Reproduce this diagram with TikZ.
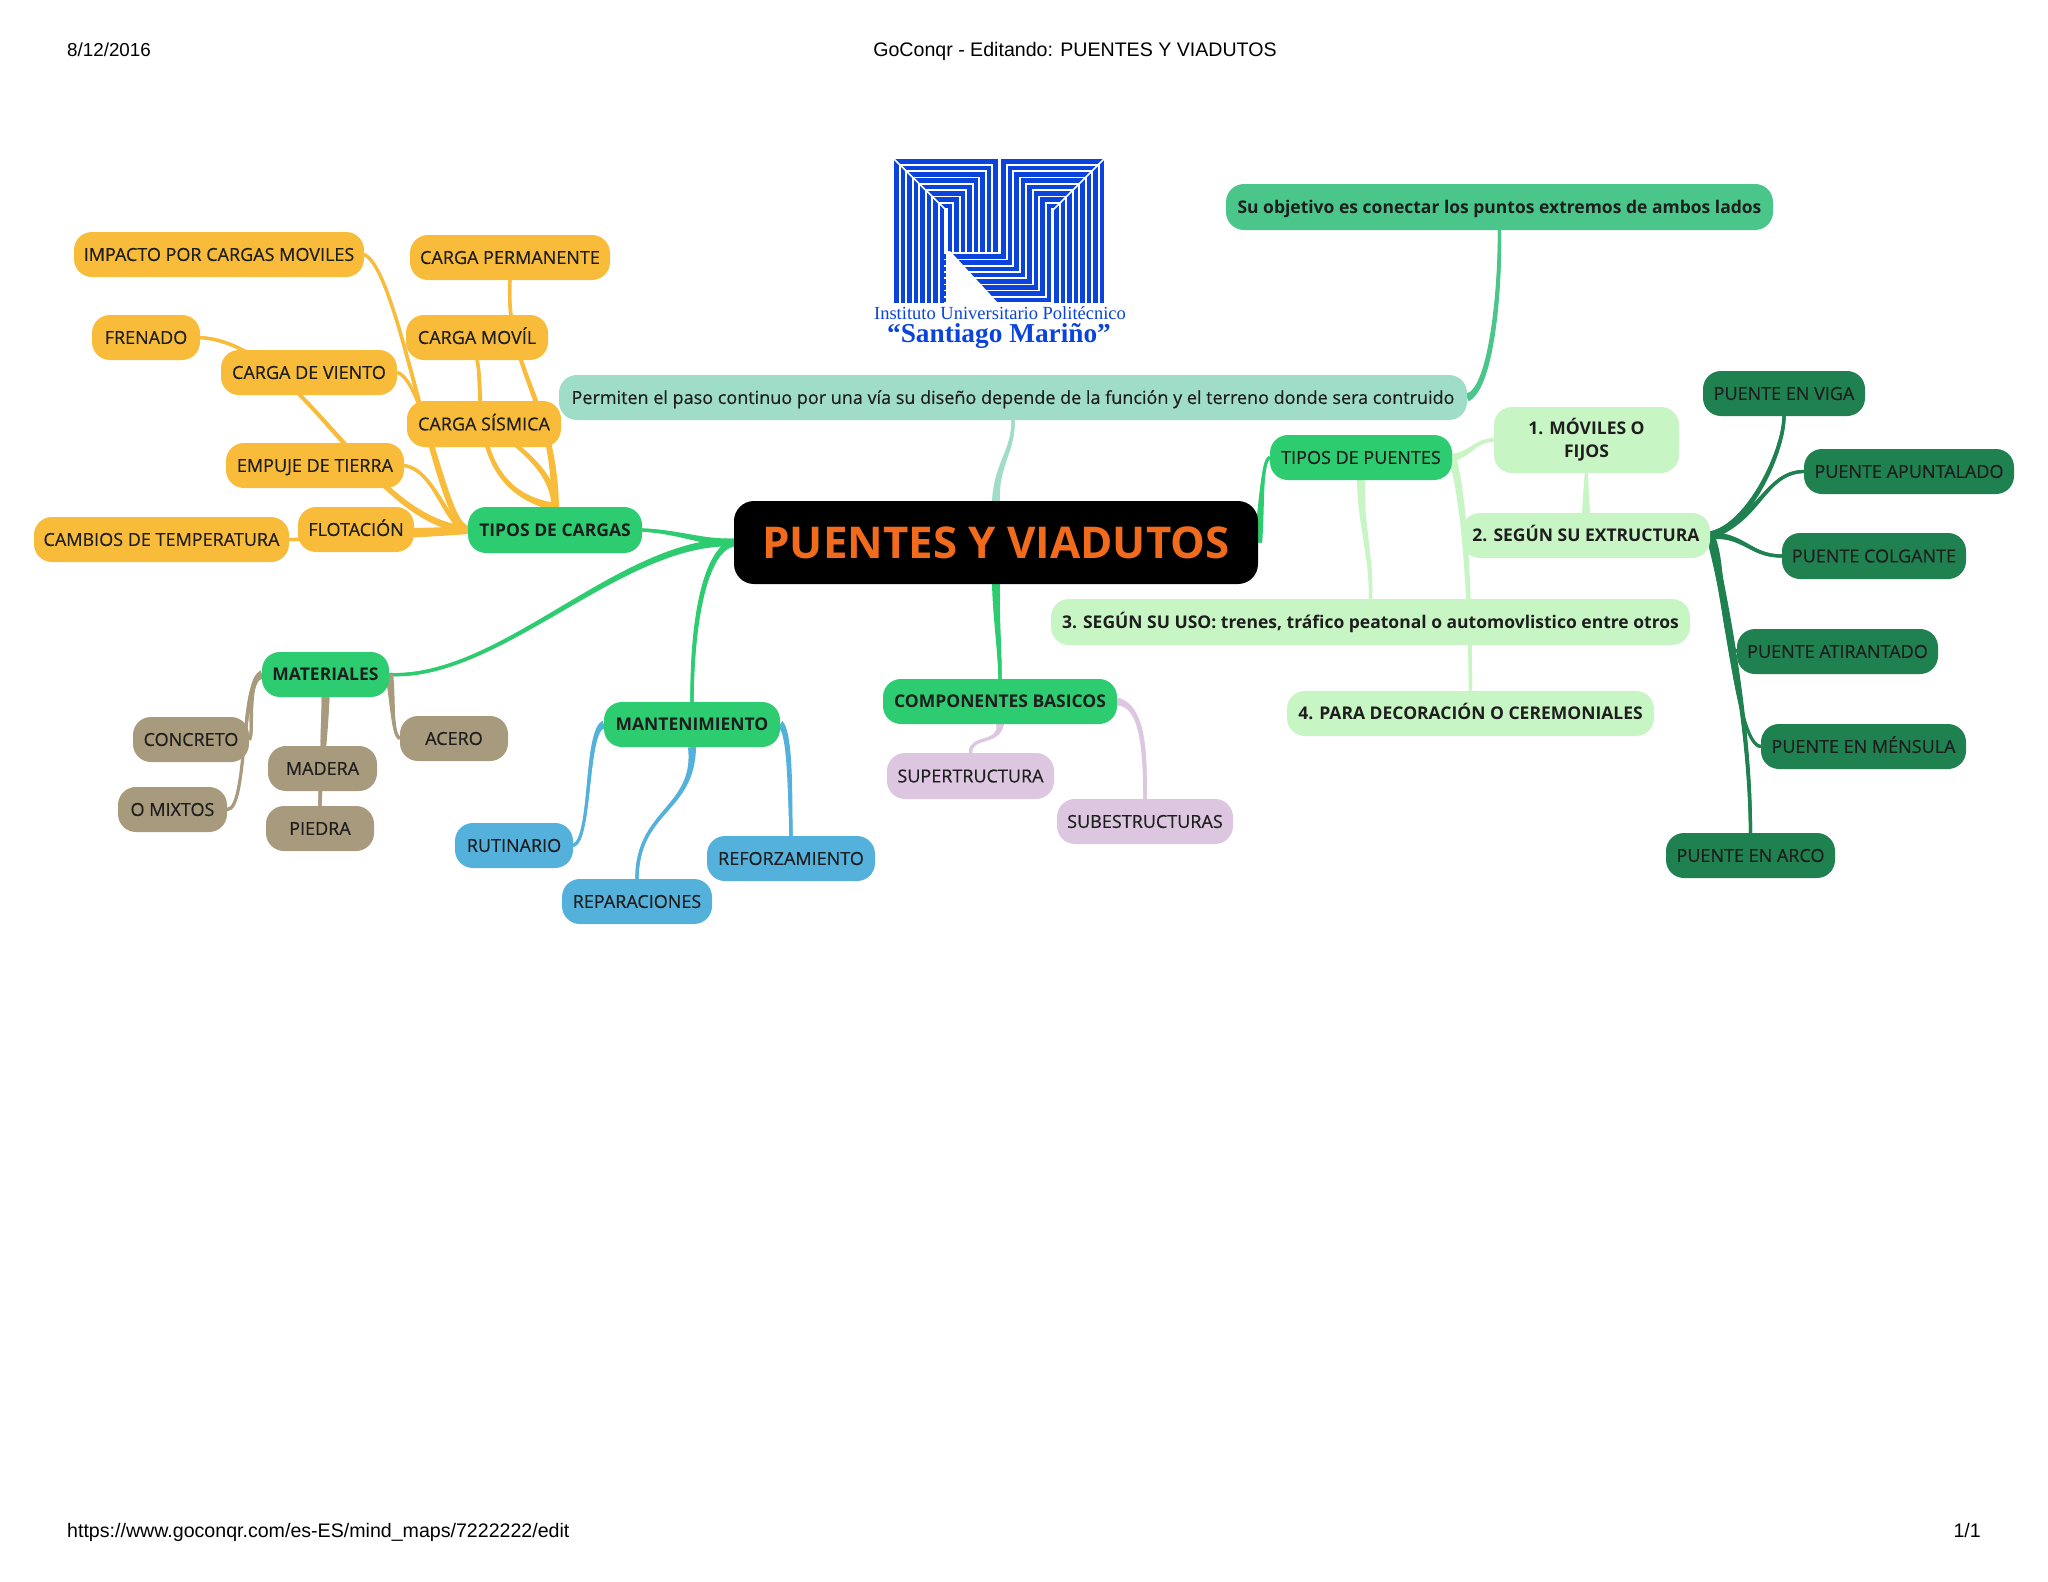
\documentclass[tikz,border=0pt]{standalone}
\usepackage{fontspec}
\setmainfont{Open Sans}
\newfontfamily\hdf{Liberation Sans}
\newfontfamily\lgf{Liberation Serif}
\newfontfamily\medf[FakeBold=0.4]{Open Sans}
\usetikzlibrary{calc}
\pgfdeclarelayer{bg}\pgfsetlayers{bg,main}
\definecolor{cOr}{HTML}{F8BC3A}
\definecolor{cGr}{HTML}{2ECC71}
\definecolor{cTe}{HTML}{9FDDC9}
\definecolor{cOb}{HTML}{4AC68B}
\definecolor{cLg}{HTML}{C8F5C4}
\definecolor{cDg}{HTML}{1F8050}
\definecolor{cTa}{HTML}{A89A7C}
\definecolor{cBl}{HTML}{54B1DB}
\definecolor{cLi}{HTML}{DCC6E0}
\definecolor{cTi}{HTML}{F26B1D}
\definecolor{cLo}{HTML}{0B44DC}
\definecolor{cTx}{HTML}{1E1E1E}
\tikzset{
  base/.style={rounded corners=18pt,inner sep=0pt,text=cTx,font=\fontsize{18}{23}\selectfont\medf,
     text height=12.9pt,text depth=0pt,anchor=center},
  bf/.style={font=\fontsize{17.5}{23}\selectfont\bfseries},
  hdr/.style={font=\fontsize{19.6}{24}\selectfont\hdf,text=black,inner sep=0pt,text height=14pt,text depth=4pt},
}
% box given by x0,x1,y0,y1
\newcommand\nd[7]{\node[base,#2,minimum width={(#4)*1pt-(#3)*1pt},minimum height={(#6)*1pt-(#5)*1pt}] (#1) at ({(#3+#4)/2},{(#5+#6)/2}) {#7};}
% tapered connector from parent to child
\newcommand\tp[5]{%
  \draw[#1,line width=3.2pt] (#2) .. controls (#3) and (#4) .. (#5);
  \fill[#1] ($(#2)!4pt!90:(#3)$) .. controls ($(#3)!3pt!90:(#4)$) and ($(#4)!2.2pt!90:(#5)$) .. ($(#5)!1.6pt!-90:(#4)$)
    -- ($(#5)!1.6pt!90:(#4)$) .. controls ($(#4)!2.2pt!-90:(#5)$) and ($(#3)!3pt!-90:(#4)$) .. ($(#2)!4pt!-90:(#3)$) -- cycle;}
\begin{document}
\begin{tikzpicture}[x=1pt,y=-1pt]
\useasboundingbox (0,0) rectangle (2048,1582);
% header and footer
\node[hdr,anchor=west,font=\fontsize{18.8}{24}\selectfont\hdf] (hda) at (67,51) {8/12/2016};
\node[hdr] (hdb) at (1075,51) {GoConqr - Editando: PUENTES Y VIADUTOS};
\node[hdr,anchor=west] (fta) at (67,1532) {https://www.goconqr.com/es-ES/mind\_maps/7222222/edit};
\node[hdr,anchor=east] (ftb) at (1981,1532) {1/1};
% logo
\begin{scope}[line width=4.6pt,cLo,line join=miter]
\foreach \i in {0,...,7}{
  \pgfmathsetmacro\xl{840+(170+19.5*\i)/3}
  \pgfmathsetmacro\xr{840+(466-19.5*\i)/3}
  \pgfmathsetmacro\yt{140+(65+19*\i)/3}
  \pgfmathsetmacro\xR{840+(786-19.5*\i)/3}
  \pgfmathsetmacro\xL{840+(491+19.5*\i)/3}
  \pgfmathsetmacro\yb{140+(349+18.7*\i)/3}
  \draw (\xl,302.5) -- (\xl,\yt) -- (\xr,\yt) -- (\xr,252);
  \draw (\xR,302.5) -- (\xR,\yt) -- (\xL,\yt) -- (\xL,\yb) -- (940,\yb);
}
\end{scope}
\fill[white] (950,251) -- (999,304) -- (946,304) -- (946,251) -- cycle;
\draw[white,line width=1.6pt] (894,159) -- (946,210);
\draw[white,line width=1.6pt] (1104,159) -- (1053,210);
\draw[white,line width=1.6pt] (999,159) -- (999,252);
\node[inner sep=0pt,text=cLo,font=\fontsize{18.5}{20}\selectfont\lgf] (lgA) at (1000,313) {Instituto Universitario Politécnico};
\node[inner sep=0pt,text=cLo,font=\fontsize{27.3}{30}\selectfont\lgf\bfseries] (lgB) at (999,336) {“Santiago Mariño”};
% nodes
\nd{main}{fill=black,rounded corners=20pt,text=cTi,font=\fontsize{43.8}{50}\selectfont\bfseries,text height=31.3pt}{734}{1258}{501}{584}{PUENTES Y VIADUTOS}
\nd{obj}{fill=cOb,bf}{1226}{1773}{184}{230}{Su objetivo es conectar los puntos extremos de ambos lados}
\nd{perm}{fill=cTe}{559}{1467}{375}{420}{Permiten el paso continuo por una vía su diseño depende de la función y el terreno donde sera contruido}
\nd{imp}{fill=cOr}{74}{364}{232}{277}{IMPACTO POR CARGAS MOVILES}
\nd{cpe}{fill=cOr}{410}{610}{235}{280}{CARGA PERMANENTE}
\nd{cmo}{fill=cOr}{406}{548}{315}{360}{CARGA MOVÍL}
\nd{fre}{fill=cOr}{92}{200}{315}{360}{FRENADO}
\nd{vie}{fill=cOr}{221}{397}{350}{395}{CARGA DE VIENTO}
\nd{sis}{fill=cOr}{407}{561}{401}{447}{CARGA SÍSMICA}
\nd{emp}{fill=cOr}{226}{404}{443}{488}{EMPUJE DE TIERRA}
\nd{flo}{fill=cOr}{298}{414}{507}{552}{FLOTACIÓN}
\nd{cam}{fill=cOr}{34}{289}{517}{562}{CAMBIOS DE TEMPERATURA}
\nd{tc}{fill=cGr,bf}{468}{642}{507}{553}{TIPOS DE CARGAS}
\nd{mat}{fill=cGr,bf}{262}{389}{652}{697}{MATERIALES}
\nd{con}{fill=cTa}{133}{249}{717}{762}{CONCRETO}
\nd{mad}{fill=cTa}{268}{377}{746}{791}{MADERA}
\nd{ace}{fill=cTa}{400}{508}{716}{761}{ACERO}
\nd{mix}{fill=cTa}{118}{227}{787}{832}{O MIXTOS}
\nd{pie}{fill=cTa}{266}{374}{806}{851}{PIEDRA}
\nd{man}{fill=cGr,bf}{604}{780}{702}{747}{MANTENIMIENTO}
\nd{rut}{fill=cBl}{455}{573}{823}{868}{RUTINARIO}
\nd{rep}{fill=cBl}{562}{712}{879}{924}{REPARACIONES}
\nd{ref}{fill=cBl}{707}{875}{836}{881}{REFORZAMIENTO}
\nd{com}{fill=cGr,bf}{883}{1117}{679}{724}{COMPONENTES BASICOS}
\nd{sup}{fill=cLi}{887}{1054}{753}{799}{SUPERTRUCTURA}
\nd{sub}{fill=cLi}{1057}{1233}{799}{844}{SUBESTRUCTURAS}
\nd{tpu}{fill=cGr}{1270}{1452}{435}{480}{TIPOS DE PUENTES}
\nd{mov}{fill=cLg,bf,align=center,text height=,text depth=}{1494}{1679}{407}{473}{1. MÓVILES O\\FIJOS}
\nd{seg}{fill=cLg,bf}{1462}{1710}{513}{558}{2. SEGÚN SU EXTRUCTURA}
\nd{uso}{fill=cLg,bf}{1051}{1690}{599}{645}{3. SEGÚN SU USO: trenes, tráfico peatonal o automovlistico entre otros}
\nd{par}{fill=cLg,bf}{1287}{1654}{691}{736}{4. PARA DECORACIÓN O CEREMONIALES}
\nd{vig}{fill=cDg}{1703}{1865}{371}{416}{PUENTE EN VIGA}
\nd{apu}{fill=cDg}{1804}{2014}{449}{494}{PUENTE APUNTALADO}
\nd{col}{fill=cDg}{1782}{1966}{533}{579}{PUENTE COLGANTE}
\nd{ati}{fill=cDg}{1737}{1938}{629}{674}{PUENTE ATIRANTADO}
\nd{men}{fill=cDg}{1761}{1966}{724}{769}{PUENTE EN MÉNSULA}
\nd{arc}{fill=cDg}{1666}{1835}{833}{878}{PUENTE EN ARCO}
% connectors
\begin{pgfonlayer}{bg}
\fill[white] (0,0) rectangle (2048,1582);
\tp{cGr}{main.west}{700,542}{680,532}{tc.east}
\tp{cGr}{main.west}{620,540}{500,680}{mat.east}
\tp{cGr}{main.west}{705,550}{692,620}{man.north}
\tp{cGr}{main.south}{996,620}{1000,650}{com.north}
\tp{cTe}{main.north}{996,465}{1014,450}{perm.south}
\tp{cGr}{main.east}{1262,500}{1262,460}{tpu.west}
\tp{cOb}{perm.east}{1490,390}{1500,300}{obj.south}
% tipos de cargas
\tp{cOr}{tc.north}{555,400}{505,370}{cpe.south}
\tp{cOr}{tc.north}{465,490}{485,390}{cmo.south}
\tp{cOr}{tc.north}{555,480}{530,450}{sis.center}
\tp{cOr}{tc.west}{435,520}{400,270}{imp.east}
\tp{cOr}{tc.west}{445,525}{425,380}{vie.east}
\tp{cOr}{tc.west}{365,520}{305,345}{fre.east}
\tp{cOr}{tc.west}{445,525}{435,470}{emp.east}
\tp{cOr}{tc.west}{450,530}{430,530}{flo.east}
\tp{cOr}{tc.west}{420,535}{330,539}{cam.east}
% tipos de puentes
\tp{cLg}{tpu.east}{1470,455}{1475,440}{mov.west}
\tp{cLg}{tpu.east}{1465,500}{1470,600}{par.north}
\tp{cLg}{tpu.south}{1360,520}{1372,560}{uso.north}
\tp{cLg}{seg.north}{1586,495}{1586,485}{mov.south}
% estructura
\tp{cDg}{seg.east}{1750,525}{1784,450}{vig.south}
\tp{cDg}{seg.east}{1760,520}{1765,472}{apu.west}
\tp{cDg}{seg.east}{1745,535}{1750,556}{col.west}
\tp{cDg}{seg.east}{1725,560}{1720,645}{ati.west}
\tp{cDg}{seg.east}{1725,580}{1735,745}{men.west}
\tp{cDg}{seg.east}{1725,600}{1750,720}{arc.north}
% materiales
\tp{cTa}{mat.west}{245,680}{255,735}{con.east}
\tp{cTa}{mat.west}{240,680}{248,810}{mix.east}
\tp{cTa}{mat.south}{325,715}{322,730}{mad.north}
\tp{cTa}{mat.south}{325,740}{320,780}{pie.north}
\tp{cTa}{mat.east}{393,700}{392,735}{ace.west}
% mantenimiento
\tp{cBl}{man.west}{585,730}{592,840}{rut.east}
\tp{cBl}{man.south}{695,810}{637,810}{rep.north}
\tp{cBl}{man.east}{790,730}{790,790}{ref.north}
% componentes
\tp{cLi}{com.south}{1000,745}{970,735}{sup.north}
\tp{cLi}{com.east}{1145,705}{1145,760}{sub.north}
\end{pgfonlayer}
\end{tikzpicture}
\end{document}
